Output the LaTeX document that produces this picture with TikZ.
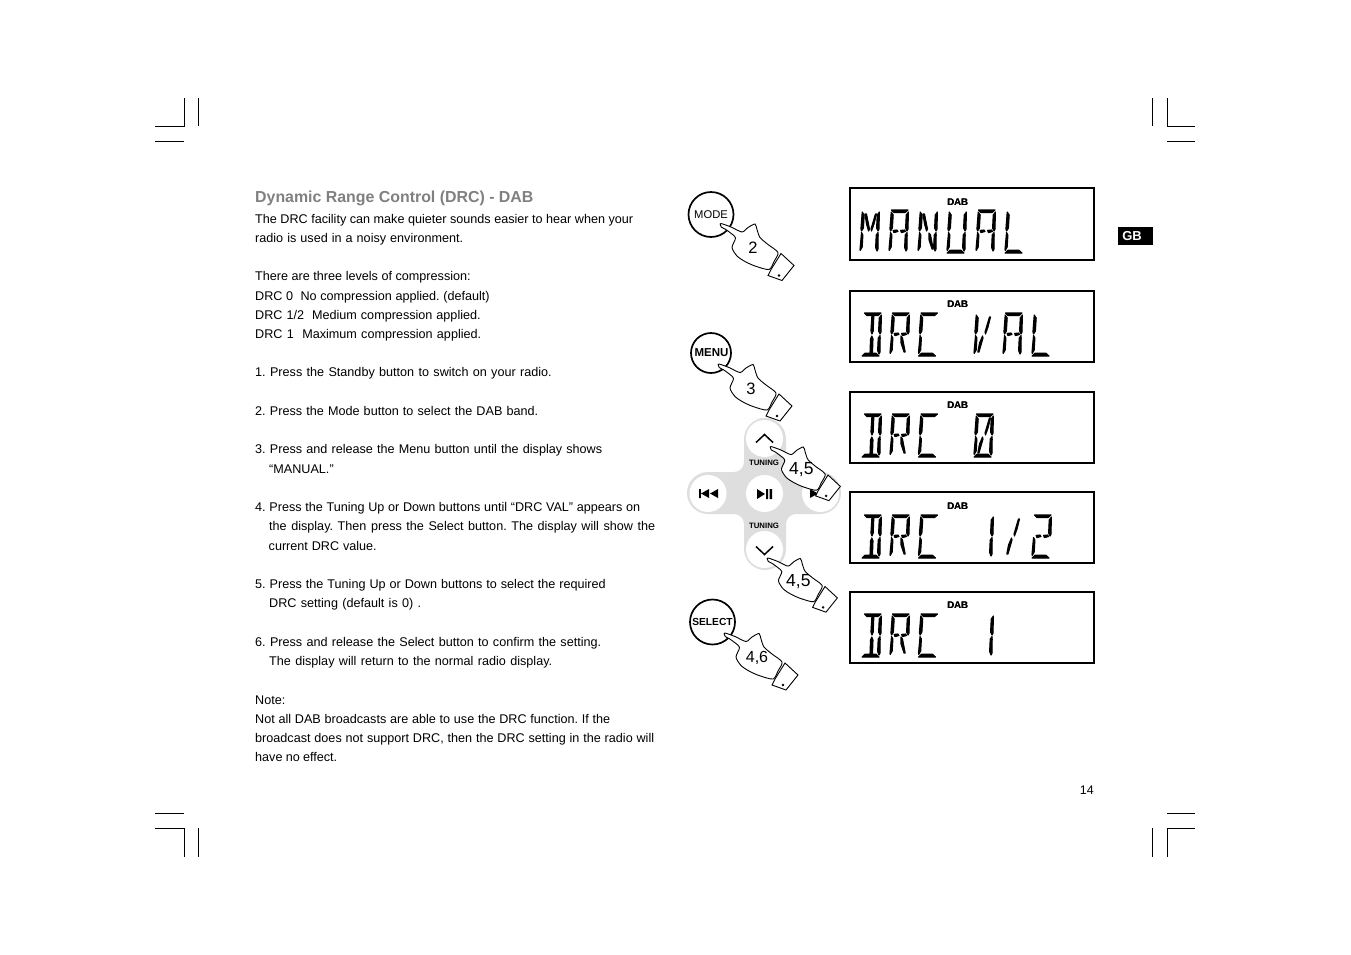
\documentclass[tikz,border=0pt]{standalone}
\usepackage{fontspec}
\setmainfont{Liberation Sans}
\frenchspacing
\newcommand{\fsz}[1]{\fontsize{#1}{#1}\selectfont}
\newcommand{\fit}[2]{\makebox[#1pt][s]{#2}}
\tikzset{
 x=1pt,y=-1pt,
 crop/.style={line width=0.9pt,black},
 body/.style={anchor=base west,inner sep=0,font=\fsz{12.62}},
 lcdbox/.style={draw=black,line width=2pt,fill=white},
 lcdseg/.style={fill=black,draw=black,line width=1.1pt,line join=round},
 btn/.style={circle,draw=black,line width=1.7pt,fill=white,inner sep=0},
 padicon/.style={fill=black},
 handline/.style={draw=black,line width=0.9pt,fill=white},
 tunelabel/.style={inner sep=0,font=\fsz{7.8}\bfseries},
 dablabel/.style={inner sep=0,font=\fsz{9.6}\bfseries},
}
% 14 segments in a 19 x 43 cell
\def\mkseg#1#2{\expandafter\def\csname lcdseg#1\endcsname{\path[lcdseg] #2;}}
\mkseg{a}{(2.5,0)--(19,0)--(16,2.6)--(5,2.6)--cycle}
\mkseg{d}{(0,43)--(17,43)--(14,40.2)--(3,40.2)--cycle}
\mkseg{f}{(2.2,2)--(4.2,5)--(3.4,18)--(1.6,21)--(0.9,19)--cycle}
\mkseg{e}{(1.5,22.5)--(2.9,25)--(2.2,37)--(0.2,40.5)--(0,39)--cycle}
\mkseg{b}{(19.4,2)--(19,19)--(18,21)--(16.6,18)--(17.2,5)--cycle}
\mkseg{c}{(18,22.5)--(18.2,25)--(18,39)--(17,41)--(15.6,37.5)--(16.2,25)--cycle}
\mkseg{i}{(9.8,3.5)--(11.8,3.5)--(11.2,18)--(10,21)--(8.9,18)--cycle}
\mkseg{l}{(9.8,23)--(11,26)--(10.5,39.5)--(8,39.5)--(8.5,26)--cycle}
\mkseg{g}{(4,20.4)--(8,20)--(9,21.5)--(5,22.6)--cycle}
\mkseg{G}{(11.5,20.4)--(15.5,20)--(16.5,21.5)--(12.5,22.6)--cycle}
\mkseg{h}{(5,4)--(6.5,4)--(9.5,19)--(8.5,21)--(6.5,14)--cycle}
\mkseg{j}{(15.4,4)--(16.5,4)--(14,14)--(11.5,21)--(11,19)--cycle}
\mkseg{k}{(8.5,23)--(9,25)--(5,39)--(3.8,39)--(5.5,30)--cycle}
\mkseg{m}{(11,23)--(12.5,25)--(15.2,39)--(14,39)--(11,30)--cycle}
\newcommand{\lcdchar}[4]{%
 \begin{scope}[shift={(#1,#2)}]\foreach \s in {#4}{\csname lcdseg\s\endcsname}\end{scope}}
\newcommand{\dabmark}[2]{\node[dablabel] (#1) at (957.5,#2) {DAB};\node[dablabel,xshift=0.4pt] (#1b) at (957.5,#2) {DAB};}
\newcommand{\handat}[6]{%
 \begin{scope}[shift={(#2,#3)},scale=#4]
  \path[handline] (60,30)--(73,42)--(61,57)--(47,52)--(50,46)--cycle;
  \path[handline] plot[smooth cycle,tension=0.45] coordinates {(0,0) (10,3.5) (21,8.5) (27,4) (34,0.5) (36,6) (39,14) (47,21) (57,29) (53,38) (48,46) (34,42.5) (24,38) (16,32.5) (11,24) (14.5,14.5) (9,9) (4,5.5) (0.3,3.6) (-0.6,1.5)};
  \draw[line width=0.7pt] (58,52) circle (0.9);
  \node[inner sep=0,font=\fsz{#5}] (#1) at (32,24.5) {#6};
 \end{scope}}
\begin{document}
\begin{tikzpicture}
\useasboundingbox (0,0) rectangle (1351,954);
\fill[white] (0,0) rectangle (1351,954);
% crop marks
\draw[crop] (155,126)--(184,126)--(184,98) (198.5,98)--(198.5,126) (155,141.5)--(184,141.5);
\draw[crop] (1195,126)--(1167,126)--(1167,98) (1152,98)--(1152,126) (1195,141.5)--(1167,141.5);
\draw[crop] (155,828)--(184,828)--(184,857) (198.5,828)--(198.5,857) (155,813)--(184,813);
\draw[crop] (1195,828)--(1167,828)--(1167,857) (1152,828)--(1152,857) (1195,813)--(1167,813);
% text
\node[anchor=base west,inner sep=0,font=\fsz{15.9}\bfseries,text=black!50] (title) at (255,202) {Dynamic Range Control (DRC) - DAB};
\node[body] (l1) at (255,223) {\fit{378}{The DRC facility can make quieter sounds easier to hear when your}};
\node[body] (l2) at (255,242) {\fit{208}{radio is used in a noisy environment.}};
\node[body] (l3) at (255,280) {\fit{215.5}{There are three levels of compression:}};
\node[body] (l4) at (255,300) {\fit{234.5}{DRC 0\ \ No compression applied. (default)}};
\node[body] (l5) at (255,319) {\fit{225.5}{DRC 1/2\ \ Medium compression applied.}};
\node[body] (l6) at (255,338) {\fit{226}{DRC 1\ \ Maximum compression applied.}};
\node[body] (l7) at (255,376) {\fit{296.5}{1. Press the Standby button to switch on your radio.}};
\node[body] (l8) at (255,415) {\fit{283}{2. Press the Mode button to select the DAB band.}};
\node[body] (l9) at (255,453) {\fit{347}{3. Press and release the Menu button until the display shows}};
\node[body] (l10) at (269,473) {“MANUAL.”};
\node[body] (l11) at (255,511) {\fit{385}{4. Press the Tuning Up or Down buttons until “DRC VAL” appears on}};
\node[body] (l12) at (269,530) {\fit{386}{the display. Then press the Select button. The display will show the}};
\node[body] (l13) at (268.5,550) {\fit{108}{current DRC value.}};
\node[body] (l14) at (255,588) {\fit{350.5}{5. Press the Tuning Up or Down buttons to select the required}};
\node[body] (l15) at (269,607) {\fit{152}{DRC setting (default is 0) .}};
\node[body] (l16) at (255,646) {\fit{346}{6. Press and release the Select button to confirm the setting.}};
\node[body] (l17) at (269,665) {\fit{283}{The display will return to the normal radio display.}};
\node[body] (l18) at (255,704) {Note:};
\node[body] (l19) at (255,723) {\fit{355}{Not all DAB broadcasts are able to use the DRC function. If the}};
\node[body] (l20) at (255,742) {\fit{399}{broadcast does not support DRC, then the DRC setting in the radio will}};
\node[body] (l21) at (255,761) {\fit{82}{have no effect.}};
\node[anchor=base east,inner sep=0,font=\fsz{12.45}] (pageno) at (1094,794) {14};
\fill[black] (1118,227) rectangle (1153,245);
\node[inner sep=0,text=white,font=\fsz{13}\bfseries] (gb) at (1132,236) {GB};
% LCD boxes
\draw[lcdbox] (850,188) rectangle (1094,260);
\draw[lcdbox] (850,291) rectangle (1094,362);
\draw[lcdbox] (850,392) rectangle (1094,463);
\draw[lcdbox] (850,492) rectangle (1094,563);
\draw[lcdbox] (850,592) rectangle (1094,663);
\dabmark{dab1}{202.5}\dabmark{dab2}{304.5}\dabmark{dab3}{405.5}\dabmark{dab4}{506}\dabmark{dab5}{605.5}
% MANUAL
\lcdchar{860}{210}{}{f,e,b,c,h,j}
\lcdchar{889}{210}{}{a,f,e,b,c,g,G}
\lcdchar{918}{210}{}{f,e,b,c,h,m}
\lcdchar{947}{210}{}{f,e,b,c,d}
\lcdchar{976}{210}{}{a,f,e,b,c,g,G}
\lcdchar{1005}{210}{}{f,e,d}
% DRC lines
\foreach \yy in {313,414,515,614}{
 \lcdchar{862}{\yy}{}{a,b,c,d,i,l}
 \lcdchar{890}{\yy}{}{a,f,e,b,g,G,m}
 \lcdchar{918.5}{\yy}{}{a,f,e,d}
}
% VAL
\lcdchar{974}{313}{}{f,e,j,k}
\lcdchar{1003}{313}{}{a,f,e,b,c,g,G}
\lcdchar{1032}{313}{}{f,e,d}
% 0
\lcdchar{974}{414}{}{a,f,e,b,c,d,j,k}
% 1/2
\lcdchar{974}{515}{}{b,c}
\lcdchar{1003}{515}{}{j,k}
\lcdchar{1032}{515}{}{a,b,g,G,e,d}
% 1
\lcdchar{974}{614}{}{b,c}
% keypad
\fill[black!13] [rounded corners=21pt] (765,418)--(786,418) [rounded corners=10pt] --(786,472) [rounded corners=21pt] --(841,472)--(841,514) [rounded corners=10pt] --(786,514) [rounded corners=21pt] --(786,570)--(744,570) [rounded corners=10pt] --(744,514) [rounded corners=21pt] --(687,514)--(687,472) [rounded corners=10pt] --(744,472) [rounded corners=21pt] --(744,418)--cycle;
\foreach \cx/\cy in {764.5/438.5,764.5/493.5,708/493.5,820.5/493.5,764.5/549.5}{
 \fill[white] (\cx,\cy) circle (18.5);
}
\draw[line width=1.5pt] (756,442.5)--(764.5,434.5)--(773,442.5);
\draw[line width=1.5pt] (756,546.5)--(764.5,554.5)--(773,546.5);
\fill[padicon] (699,489)rectangle(700.8,498) (709,489)--(709,498)--(701,493.5)--cycle (718,489)--(718,498)--(710,493.5)--cycle;
\fill[padicon] (757,489)--(757,499)--(765,494)--cycle (766,489)rectangle(768.2,499) (769.6,489)rectangle(772,499);
\fill[padicon] (810,489)--(810,498)--(818,493.5)--cycle (819,489)--(819,498)--(827,493.5)--cycle (827,489)rectangle(829,498);
\node[tunelabel] (tune1) at (764,462.5) {TUNING};
\node[tunelabel] (tune2) at (764,526) {TUNING};
% buttons
\node[btn,minimum size=45pt] (mode) at (711,214.5) {};
\node[inner sep=0,font=\fsz{11.2}] (modet) at (711,214.5) {MODE};
\node[btn,minimum size=40pt] (menu) at (711,353) {};
\node[inner sep=0,font=\fsz{11.5}\bfseries] (menut) at (711.5,353) {MENU};
\node[btn,minimum size=45pt] (select) at (712.5,622) {};
\node[inner sep=0,font=\fsz{10.2}\bfseries] (selectt) at (712.5,622) {SELECT};
% hands
\handat{h2}{721}{223.5}{1}{16.5}{2}
\handat{h3}{719}{364}{1}{16.5}{3}
\handat{h45a}{771}{446.5}{0.95}{17.5}{4,5}
\handat{h45b}{768}{558}{0.95}{17.5}{4,5}
\handat{h46}{725}{633}{1}{16}{4,6}
\end{tikzpicture}
\end{document}
